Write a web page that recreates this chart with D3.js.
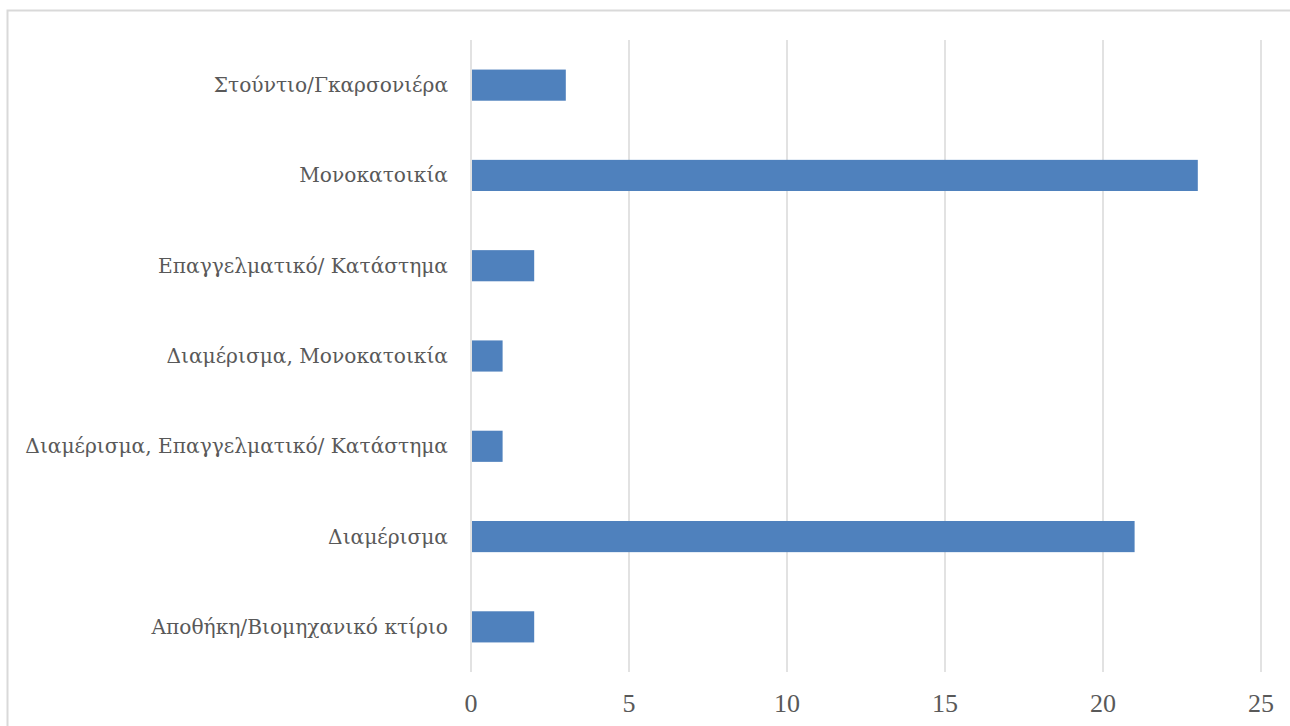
<!DOCTYPE html>
<html lang="el">
<head>
<meta charset="UTF-8">
<title>Τύπος ακινήτου</title>
<script src="https://d3js.org/d3.v7.min.js"></script>
<style>
html,body{margin:0;padding:0;background:#fff;overflow:hidden}
svg{display:block}
.cat-label{font-family:"DejaVu Serif",serif;font-size:20px;fill:#595959}
.tick-label{font-family:"Liberation Serif",serif;font-size:26px;fill:#595959}
</style>
</head>
<body>
<svg id="chart" width="1290" height="726"></svg>
<script>
// categories top to bottom, as shown
var categories = [
  'Στούντιο/Γκαρσονιέρα',
  'Μονοκατοικία',
  'Επαγγελματικό/ Κατάστημα',
  'Διαμέρισμα, Μονοκατοικία',
  'Διαμέρισμα, Επαγγελματικό/ Κατάστημα',
  'Διαμέρισμα',
  'Αποθήκη/Βιομηχανικό κτίριο'
];
var values = [3, 23, 2, 1, 1, 21, 2];
var xTicks = [0, 5, 10, 15, 20, 25];

var svg = d3.select('#chart');

// outer chart border
svg.append('rect')
  .attr('x', 7.5).attr('y', 10.5)
  .attr('width', 1300).attr('height', 740)
  .attr('fill', 'none').attr('stroke', '#d9d9d9').attr('stroke-width', 2);

var x = d3.scaleLinear().domain([0, 25]).range([471, 1261]);
var y = d3.scaleBand().domain(categories).range([40, 672]).paddingInner(0.655).paddingOuter(0.3275);

// gridlines
svg.append('g').selectAll('line').data(xTicks).join('line')
  .attr('x1', function(d) { return x(d); }).attr('x2', function(d) { return x(d); })
  .attr('y1', 40).attr('y2', 672)
  .attr('stroke', '#d9d9d9').attr('stroke-width', 1.5);

// bars
svg.append('g').selectAll('rect').data(values).join('rect')
  .attr('x', x(0) + 1)
  .attr('y', function(d, i) { return y(categories[i]); })
  .attr('width', function(d) { return x(d) - x(0) - 1; })
  .attr('height', y.bandwidth())
  .attr('fill', '#4f81bd');

// category labels
var labels = svg.append('g').selectAll('text').data(categories).join('text')
  .attr('class', 'cat-label')
  .attr('x', 448)
  .attr('y', function(d) { return y(d) + y.bandwidth() / 2; })
  .attr('dy', '0.35em')
  .attr('text-anchor', 'end')
  .text(function(d) { return d; });

// fit the longest label to the width seen in the original (~423px)
var widest = d3.max(labels.nodes(), function(n) { return n.getComputedTextLength(); });
labels.style('font-size', (20 * 423 / widest) + 'px');

// x tick labels
svg.append('g').selectAll('text').data(xTicks).join('text')
  .attr('class', 'tick-label')
  .attr('x', function(d) { return x(d); })
  .attr('y', 712)
  .attr('text-anchor', 'middle')
  .text(function(d) { return d; });
</script>
</body>
</html>
